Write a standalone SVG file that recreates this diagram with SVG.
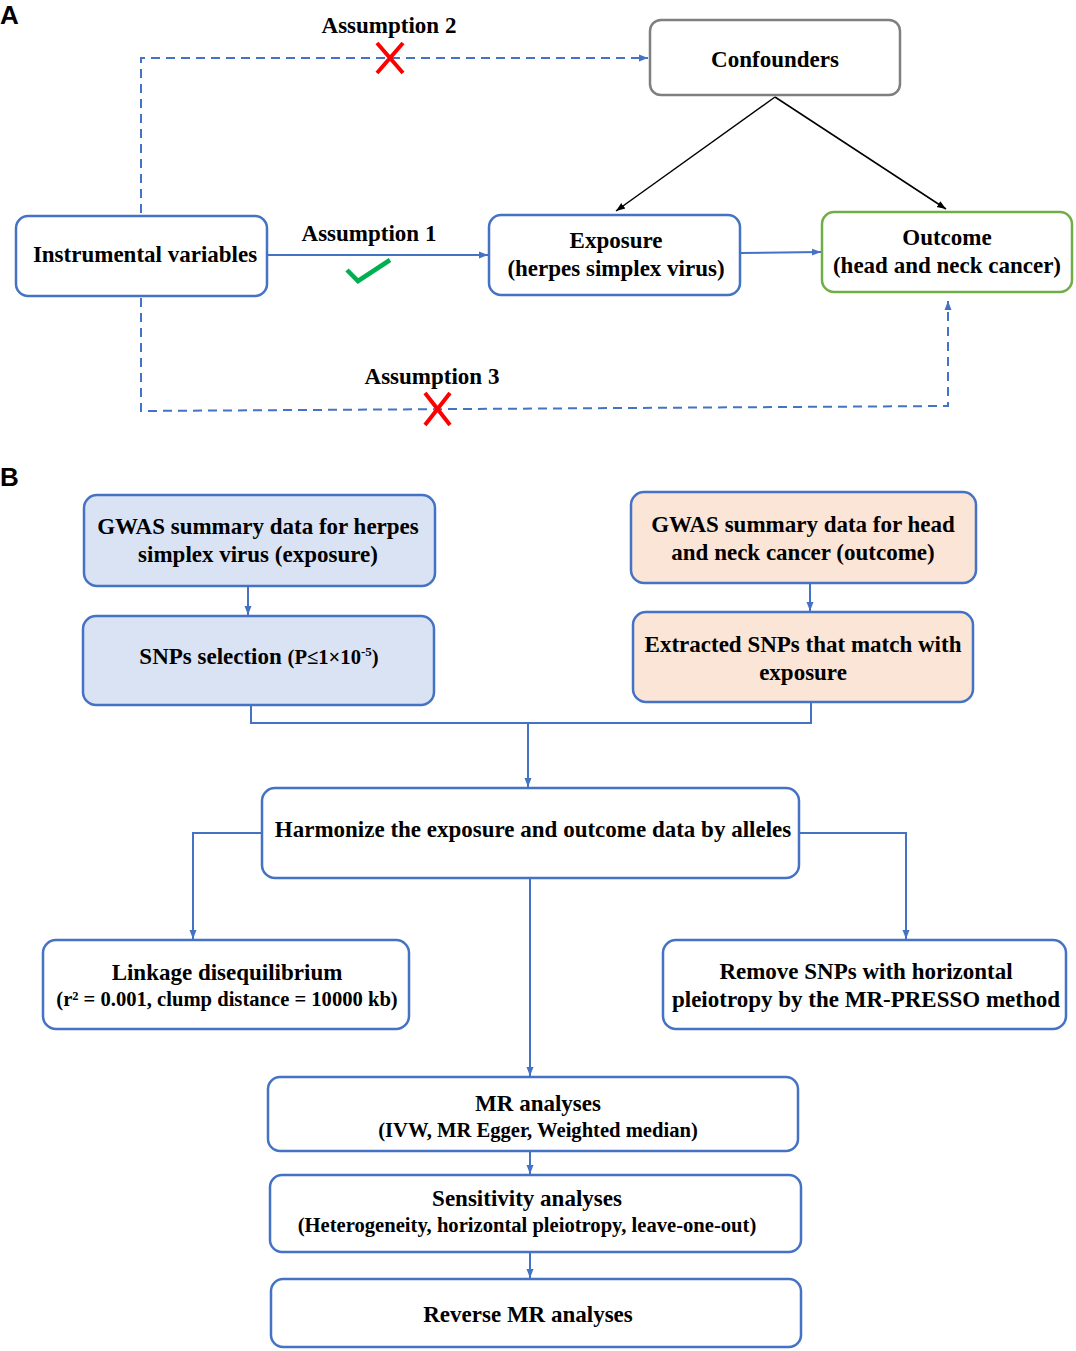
<svg xmlns="http://www.w3.org/2000/svg" width="1076" height="1351" viewBox="0 0 1076 1351">
<style>
.t{font-family:"Liberation Serif","Times New Roman",serif;font-weight:bold;font-size:23px;fill:#000;text-anchor:middle}
.s{font-size:20.6px}
.lbl{font-family:"Liberation Sans",Arial,sans-serif;font-weight:bold;font-size:26px;fill:#000}
.box{fill:#fff;stroke:#4472C4;stroke-width:2.5}
.blue{fill:#DAE3F3}
.peach{fill:#FBE5D6}
.c{fill:none;stroke:#4472C4;stroke-width:2}
.d{fill:none;stroke:#4472C4;stroke-width:2;stroke-dasharray:9,6}
.k{fill:none;stroke:#000;stroke-width:1.5}
</style>
<defs>
<marker id="ab" markerWidth="10" markerHeight="10" refX="9" refY="5" orient="auto" markerUnits="userSpaceOnUse"><path d="M0,1.5 L9,5 L0,8.5 Z" fill="#4472C4"/></marker>
<marker id="ak" markerWidth="10" markerHeight="10" refX="9" refY="5" orient="auto" markerUnits="userSpaceOnUse"><path d="M0,1.5 L9,5 L0,8.5 Z" fill="#000"/></marker>
</defs>
<rect width="1076" height="1351" fill="#fff"/>
<text class="lbl" x="0" y="24">A</text>
<text class="lbl" x="0" y="486">B</text>

<g id="connectors">
<path class="d" d="M141,213 V58 H648" marker-end="url(#ab)"/>
<path class="d" d="M141,298 V411 L948,406 V301" marker-end="url(#ab)"/>
<line class="c" x1="268" y1="255" x2="488" y2="255" marker-end="url(#ab)"/>
<line class="c" x1="741" y1="253" x2="821" y2="252" marker-end="url(#ab)"/>
<line class="k" x1="775" y1="97" x2="616" y2="211" marker-end="url(#ak)"/>
<line class="k" x1="775" y1="97" x2="946" y2="209" marker-end="url(#ak)"/>
<line class="c" x1="248" y1="587" x2="248" y2="615" marker-end="url(#ab)"/>
<line class="c" x1="810" y1="584" x2="810" y2="611" marker-end="url(#ab)"/>
<path class="c" d="M251,706 V723 H811 V703"/>
<line class="c" x1="528" y1="723" x2="528" y2="787" marker-end="url(#ab)"/>
<path class="c" d="M262,833 H193 V939" marker-end="url(#ab)"/>
<path class="c" d="M799,833 H906 V939" marker-end="url(#ab)"/>
<line class="c" x1="530" y1="879" x2="530" y2="1076" marker-end="url(#ab)"/>
<line class="c" x1="530" y1="1152" x2="530" y2="1174" marker-end="url(#ab)"/>
<line class="c" x1="530" y1="1253" x2="530" y2="1278" marker-end="url(#ab)"/>
</g>

<g id="labels">
<text class="t" x="389" y="33">Assumption 2</text>
<text class="t" x="369" y="241">Assumption 1</text>
<text class="t" x="432" y="384">Assumption 3</text>
<path d="M377,43 L403,73 M403,43 L377,73" stroke="#FF0000" stroke-width="4" fill="none"/>
<path d="M425,393 L450,425 M450,393 L425,425" stroke="#FF0000" stroke-width="4" fill="none"/>
<path d="M347,270 L358,281 L390,260" stroke="#00B050" stroke-width="4.5" fill="none"/>
</g>

<g id="confounders">
<rect x="650" y="20" width="250" height="75" rx="11" fill="#fff" stroke="#7F7F7F" stroke-width="2.5"/>
<text class="t" x="775" y="67">Confounders</text>
</g>
<g id="iv">
<rect class="box" x="16" y="216" width="251" height="80" rx="12"/>
<text class="t" x="145" y="262">Instrumental variables</text>
</g>
<g id="exposure">
<rect class="box" x="489" y="215" width="251" height="80" rx="12"/>
<text class="t" x="616" y="248">Exposure</text>
<text class="t" x="616" y="276">(herpes simplex virus)</text>
</g>
<g id="outcome">
<rect x="822" y="212" width="250" height="80" rx="12" fill="#fff" stroke="#70AD47" stroke-width="2.5"/>
<text class="t" x="947" y="245">Outcome</text>
<text class="t" x="947" y="273">(head and neck cancer)</text>
</g>

<g id="gwas-hsv">
<rect class="box blue" x="84" y="495" width="351" height="91" rx="13"/>
<text class="t" x="258" y="534">GWAS summary data for herpes</text>
<text class="t" x="258" y="562">simplex virus (exposure)</text>
</g>
<g id="snps-selection">
<rect class="box blue" x="83" y="616" width="351" height="89" rx="13"/>
<text class="t" x="259" y="664">SNPs selection <tspan class="s">(P≤1×10<tspan font-size="13" dy="-8">-5</tspan><tspan dy="8">)</tspan></tspan></text>
</g>
<g id="gwas-hnc">
<rect class="box peach" x="631" y="492" width="345" height="91" rx="13"/>
<text class="t" x="803" y="532">GWAS summary data for head</text>
<text class="t" x="803" y="560">and neck cancer (outcome)</text>
</g>
<g id="extracted">
<rect class="box peach" x="633" y="612" width="340" height="90" rx="13"/>
<text class="t" x="803" y="652">Extracted SNPs that match with</text>
<text class="t" x="803" y="680">exposure</text>
</g>
<g id="harmonize">
<rect class="box" x="262" y="788" width="537" height="90" rx="13"/>
<text class="t" x="533" y="837">Harmonize the exposure and outcome data by alleles</text>
</g>
<g id="linkage">
<rect class="box" x="43" y="940" width="366" height="89" rx="13"/>
<text class="t" x="227" y="980">Linkage disequilibrium</text>
<text class="t s" x="227" y="1006">(r² = 0.001, clump distance = 10000 kb)</text>
</g>
<g id="remove">
<rect class="box" x="663" y="940" width="403" height="89" rx="13"/>
<text class="t" x="866" y="979">Remove SNPs with horizontal</text>
<text class="t" x="866" y="1007">pleiotropy by the MR-PRESSO method</text>
</g>
<g id="mr">
<rect class="box" x="268" y="1077" width="530" height="74" rx="12"/>
<text class="t" x="538" y="1111">MR analyses</text>
<text class="t s" x="538" y="1137">(IVW, MR Egger, Weighted median)</text>
</g>
<g id="sensitivity">
<rect class="box" x="270" y="1175" width="531" height="77" rx="12"/>
<text class="t" x="527" y="1206">Sensitivity analyses</text>
<text class="t s" x="527" y="1232">(Heterogeneity, horizontal pleiotropy, leave-one-out)</text>
</g>
<g id="reverse">
<rect class="box" x="271" y="1279" width="530" height="68" rx="12"/>
<text class="t" x="528" y="1322">Reverse MR analyses</text>
</g>
</svg>
